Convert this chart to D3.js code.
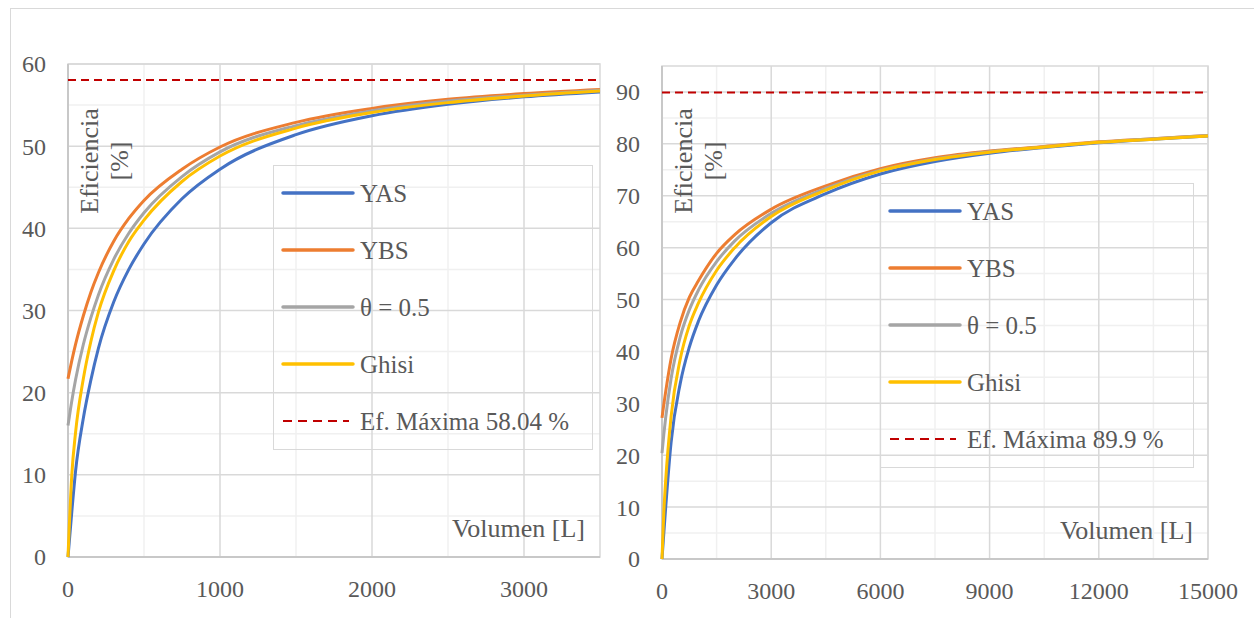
<!DOCTYPE html>
<html>
<head>
<meta charset="utf-8" />
<script src="https://d3js.org/d3.v7.min.js"></script>
<style>body{margin:0;background:#fff}</style>
</head>
<body>
<svg id="viz" font-family="Liberation Serif"></svg>
<script>
// ---- data ----
var seriesNames = ["YAS", "YBS", "\u03b8 = 0.5", "Ghisi"];
var seriesColors = ["#4472C4", "#ED7D31", "#A5A5A5", "#FFC000"];

// left panel (0 - 3500 L)
var volLeft   = [0, 25, 50, 100, 150, 200, 300, 400, 500, 750, 1000, 1500, 2000, 2500, 3000, 3500];
var yasLeft   = [0, 5.5, 10.5, 16.8, 21.5, 25.4, 31.0, 35.0, 38.1, 43.6, 47.2, 51.4, 53.7, 55.1, 56.0, 56.6];
var ybsLeft   = [21.7, 23.9, 25.9, 29.3, 32.2, 34.6, 38.4, 41.2, 43.4, 47.2, 49.9, 52.9, 54.6, 55.7, 56.4, 56.9];
var thetaLeft = [16.0, 19.0, 21.6, 25.8, 29.1, 31.9, 36.2, 39.4, 41.9, 46.3, 49.3, 52.5, 54.3, 55.5, 56.2, 56.8];
var ghisiLeft = [0, 10.0, 15.2, 21.6, 26.2, 29.8, 34.8, 38.4, 41.0, 45.7, 48.8, 52.2, 54.1, 55.3, 56.1, 56.7];
var efMaxLeft = 58.04;
var xTicksLeft = [0, 1000, 2000, 3000];
var yTicksLeft = [0, 10, 20, 30, 40, 50, 60];

// right panel (0 - 15000 L)
var volRight   = [0, 50, 100, 250, 500, 750, 1000, 1500, 2000, 3000, 4500, 6000, 7500, 9000, 10500, 12000, 13500, 15000];
var yasRight   = [0, 5.0, 9.8, 22.5, 33.8, 40.8, 45.8, 52.8, 57.8, 64.8, 70.4, 74.2, 76.6, 78.2, 79.3, 80.2, 80.9, 81.5];
var ybsRight   = [27.2, 29.8, 32.2, 38.6, 45.6, 50.4, 53.6, 58.9, 62.5, 67.4, 71.9, 75.2, 77.3, 78.6, 79.5, 80.4, 81.0, 81.6];
var thetaRight = [20.4, 24.0, 27.2, 34.8, 42.8, 48.0, 51.8, 57.3, 61.3, 66.6, 71.4, 74.9, 77.1, 78.5, 79.4, 80.3, 81.0, 81.6];
var ghisiRight = [0, 9.0, 15.0, 27.5, 38.5, 45.0, 49.3, 55.6, 60.0, 66.0, 71.1, 74.8, 77.0, 78.4, 79.4, 80.3, 80.9, 81.5];
var efMaxRight = 89.9;
var xTicksRight = [0, 3000, 6000, 9000, 12000, 15000];
var yTicksRight = [0, 10, 20, 30, 40, 50, 60, 70, 80, 90];

var FONT = "Liberation Serif";
var TXT = "#595959";

var W = 1254, H = 618;
var svg = d3.select("#viz").attr("width", W).attr("height", H);

// outer frame (only top and left edges are visible)
svg.append("rect")
  .attr("x", 10.5).attr("y", 8.5)
  .attr("width", W + 20).attr("height", H + 20)
  .attr("fill", "none").attr("stroke", "#d9d9d9").attr("stroke-width", 1);

var textLayer; // texts go on top of everything

function addText(str, size) {
  var t = textLayer.append("text")
    .attr("font-family", FONT)
    .attr("font-size", size)
    .attr("fill", TXT)
    .style("font-family", "'Liberation Serif', Tinos, 'Times New Roman', serif");
  t.text(str);
  return t;
}

function drawChart(opt) {
  var g = svg.insert("g", ".texts");

  var x = d3.scaleLinear().domain([0, opt.xMax]).range([opt.left, opt.right]);
  var y = d3.scaleLinear().domain([0, opt.yMax]).range([opt.bottom, opt.top]);

  // minor grid
  g.selectAll(".mx").data(opt.xMinor).enter().append("line")
    .attr("x1", function (d) { return x(d); }).attr("x2", function (d) { return x(d); })
    .attr("y1", opt.top).attr("y2", opt.bottom)
    .attr("stroke", "#f0f0f0").attr("stroke-width", 1.5);
  g.selectAll(".my").data(opt.yMinor).enter().append("line")
    .attr("y1", function (d) { return y(d); }).attr("y2", function (d) { return y(d); })
    .attr("x1", opt.left).attr("x2", opt.right)
    .attr("stroke", "#f0f0f0").attr("stroke-width", 1.5);

  // major grid
  g.selectAll(".gx").data(opt.xTicks).enter().append("line")
    .attr("x1", function (d) { return x(d); }).attr("x2", function (d) { return x(d); })
    .attr("y1", opt.top).attr("y2", opt.bottom)
    .attr("stroke", "#d9d9d9").attr("stroke-width", 1.5);
  g.selectAll(".gy").data(opt.yTicks).enter().append("line")
    .attr("y1", function (d) { return y(d); }).attr("y2", function (d) { return y(d); })
    .attr("x1", opt.left).attr("x2", opt.right)
    .attr("stroke", "#d9d9d9").attr("stroke-width", 1.5);

  // plot border
  g.append("rect")
    .attr("x", opt.left).attr("y", opt.top)
    .attr("width", opt.right - opt.left).attr("height", opt.bottom - opt.top)
    .attr("fill", "none").attr("stroke", "#d9d9d9").attr("stroke-width", 1.5);
  g.append("line").attr("x1", opt.left).attr("x2", opt.left)
    .attr("y1", opt.top).attr("y2", opt.bottom)
    .attr("stroke", "#c8c8c8").attr("stroke-width", 2);
  g.append("line").attr("x1", opt.left).attr("x2", opt.right)
    .attr("y1", opt.bottom).attr("y2", opt.bottom)
    .attr("stroke", "#c8c8c8").attr("stroke-width", 2);

  // tick labels (positions from the scales)
  opt.xTicks.forEach(function (d) {
    addText(String(d), 24)
      .attr("x", x(d)).attr("y", opt.bottom + 40)
      .attr("text-anchor", "middle");
  });
  opt.yTicks.forEach(function (d) {
    addText(String(d), 24)
      .attr("x", opt.left - 22).attr("y", y(d)).attr("dy", "0.35em")
      .attr("text-anchor", "end");
  });

  // curves
  var line = d3.line()
    .x(function (d) { return x(d[0]); })
    .y(function (d) { return y(d[1]); })
    .curve(d3.curveMonotoneX);

  opt.series.forEach(function (vals, i) {
    var pts = opt.vol.map(function (v, k) { return [v, vals[k]]; });
    g.append("path").datum(pts)
      .attr("d", line)
      .attr("fill", "none")
      .attr("stroke", seriesColors[i])
      .attr("stroke-width", 3)
      .attr("stroke-linejoin", "round");
  });

  // max efficiency dashed line
  g.append("line")
    .attr("x1", opt.left).attr("x2", opt.right)
    .attr("y1", y(opt.efMax)).attr("y2", y(opt.efMax))
    .attr("stroke", "#C00000").attr("stroke-width", 2)
    .attr("stroke-dasharray", "8,5");

  // axis titles
  var tx = opt.left + 30, ty = 161;
  addText("Eficiencia", 26)
    .attr("transform", "translate(" + tx + "," + ty + ") rotate(-90)")
    .attr("text-anchor", "middle");
  addText("[%]", 26)
    .attr("transform", "translate(" + (tx + 30) + "," + ty + ") rotate(-90)")
    .attr("text-anchor", "middle");

  addText("Volumen [L]", 26)
    .attr("x", opt.right - 15).attr("y", opt.bottom - 20)
    .attr("text-anchor", "end");

  // legend (transparent, grid shows through)
  g.append("rect")
    .attr("x", opt.legX + 0.5).attr("y", opt.legY + 0.5)
    .attr("width", opt.legW).attr("height", opt.legH)
    .attr("fill", "none").attr("stroke", "#d9d9d9").attr("stroke-width", 1);

  var labels = seriesNames.concat(["Ef. M\u00e1xima " + opt.efMax + " %"]);
  labels.forEach(function (lab, i) {
    var ly = opt.legY + 28 + i * 57;
    var lx = opt.legX + 10;
    var isMax = i === seriesNames.length;
    g.append("line")
      .attr("x1", lx).attr("x2", isMax ? lx + 66 : lx + 70)
      .attr("y1", ly).attr("y2", ly)
      .attr("stroke", isMax ? "#C00000" : seriesColors[i])
      .attr("stroke-width", isMax ? 2 : 3.5)
      .attr("stroke-linecap", isMax ? "butt" : "round")
      .attr("stroke-dasharray", isMax ? "9,6" : null);
    addText(lab, 25)
      .attr("x", lx + 77).attr("y", ly).attr("dy", "0.35em");
  });
}

textLayer = svg.append("g").attr("class", "texts").attr("font-family", FONT);

drawChart({
  left: 68, right: 600, top: 64, bottom: 557,
  xMax: 3500, yMax: 60,
  xTicks: xTicksLeft, yTicks: yTicksLeft,
  xMinor: [500, 1500, 2500], yMinor: [5, 15, 25, 35, 45, 55],
  vol: volLeft, series: [yasLeft, ybsLeft, thetaLeft, ghisiLeft],
  efMax: efMaxLeft,
  legX: 273, legY: 165, legW: 319, legH: 284
});

drawChart({
  left: 662, right: 1208, top: 66, bottom: 559,
  xMax: 15000, yMax: 95,
  xTicks: xTicksRight, yTicks: yTicksRight,
  xMinor: [1500, 4500, 7500, 10500, 13500], yMinor: [5, 15, 25, 35, 45, 55, 65, 75, 85],
  vol: volRight, series: [yasRight, ybsRight, thetaRight, ghisiRight],
  efMax: efMaxRight,
  legX: 880, legY: 183, legW: 313, legH: 284
});

textLayer.selectAll("text").each(function () { this.getComputedTextLength(); });
</script>
</body>
</html>
